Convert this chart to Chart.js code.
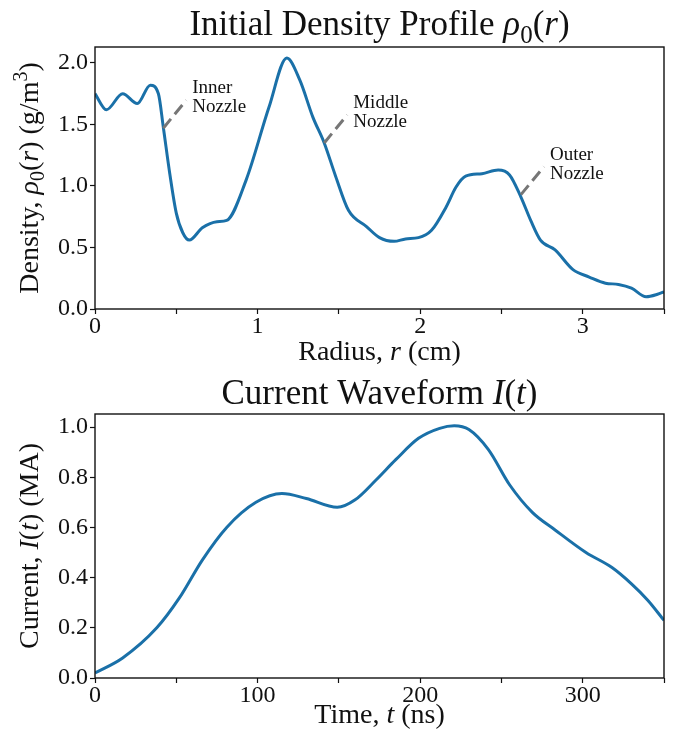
<!DOCTYPE html>
<html>
<head>
<meta charset="utf-8">
<script src="https://cdn.jsdelivr.net/npm/chart.js@4.4.1/dist/chart.umd.min.js"></script>
<style>
  html, body { margin: 0; padding: 0; background: #fff; }
  canvas { display: block; }
</style>
</head>
<body>
<canvas id="densitat" width="681" height="369"></canvas>
<canvas id="corrent" width="681" height="369"></canvas>
<script>
// Perfil de densitat inicial rho0(r)
const radi = [0, 0.07, 0.17, 0.26, 0.34, 0.39, 0.42, 0.46, 0.50, 0.54, 0.58, 0.66, 0.75, 0.81, 0.93,
  1.07, 1.18, 1.26, 1.34, 1.41, 1.48, 1.56, 1.67, 1.75, 1.84, 1.91, 1.99, 2.07, 2.16, 2.22, 2.28,
  2.38, 2.48, 2.55, 2.62, 2.68, 2.74, 2.83, 2.94, 3.04, 3.14, 3.22, 3.30, 3.39, 3.46, 3.5];
const densitat = [1.75, 1.62, 1.75, 1.67, 1.82, 1.75, 1.48, 1.10, 0.78, 0.62, 0.56, 0.66, 0.71, 0.72, 1.05,
  1.64, 2.04, 1.86, 1.56, 1.35, 1.08, 0.80, 0.67, 0.58, 0.55, 0.57, 0.58, 0.64, 0.83, 0.99, 1.08,
  1.10, 1.13, 1.09, 0.91, 0.72, 0.56, 0.48, 0.32, 0.26, 0.21, 0.20, 0.17, 0.10, 0.12, 0.14];

// Forma d'ona del corrent I(t)
const temps = [0, 17, 38, 52, 66, 81, 99, 115, 130, 149, 160, 173, 185, 199, 212, 221, 230, 242,
  255, 269, 283, 302, 318, 330, 340, 350];
const corrent = [0.02, 0.08, 0.20, 0.32, 0.47, 0.60, 0.70, 0.735, 0.715, 0.68, 0.71, 0.79, 0.87,
  0.955, 0.995, 1.005, 0.99, 0.91, 0.77, 0.66, 0.59, 0.50, 0.44, 0.375, 0.31, 0.23];

// Toveres: on apunta cada fletxa (r, rho)
const toveres = ['Inner', 'Middle', 'Outer'];
const toveraR = [0.42, 1.41, 2.62];
const toveraRho = [1.47, 1.35, 0.93];

const ticksDensitat = [0, 0.5, 1.0, 1.5, 2.0];
const ticksCorrent = [0, 0.2, 0.4, 0.6, 0.8, 1.0];

const SERIF = '"Liberation Serif", "DejaVu Serif", serif';
const BLAU = '#1a70a8';
const TINTA = '#111';

// Text amb cursiva, subíndex i superíndex: [text, estil] amb estil n/i/s/p
function fontPer(e, mida) {
  if (e === 'i') return `italic ${mida}px ${SERIF}`;
  if (e === 's' || e === 'p') return `${Math.round(mida * 0.7)}px ${SERIF}`;
  return `${mida}px ${SERIF}`;
}
function mesuraRic(ctx, parts, mida) {
  let w = 0;
  parts.forEach(([t, e]) => { ctx.font = fontPer(e, mida); w += ctx.measureText(t).width; });
  return w;
}
function textRic(ctx, parts, x, y, mida) {
  const w = mesuraRic(ctx, parts, mida);
  let cx = x - w / 2;
  ctx.textAlign = 'left';
  ctx.textBaseline = 'alphabetic';
  ctx.fillStyle = TINTA;
  parts.forEach(([t, e]) => {
    ctx.font = fontPer(e, mida);
    let dy = 0;
    if (e === 's') dy = mida * 0.22;
    if (e === 'p') dy = -mida * 0.38;
    ctx.fillText(t, cx, y + dy);
    cx += ctx.measureText(t).width;
  });
}

function pluginEtiquetes(titol, etX, etY, baseX) {
  return {
    id: 'etiquetes',
    afterDraw(chart) {
      const { ctx, chartArea: a } = chart;
      ctx.save();
      // marc complet
      ctx.strokeStyle = TINTA;
      ctx.lineWidth = 1.4;
      ctx.strokeRect(a.left, a.top, a.right - a.left, a.bottom - a.top);
      const cx = (a.left + a.right) / 2;
      textRic(ctx, titol, cx, 35, 35);
      textRic(ctx, etX, cx, baseX, 28);
      ctx.translate(38, (a.top + a.bottom) / 2);
      ctx.rotate(-Math.PI / 2);
      textRic(ctx, etY, 0, 0, 28);
      ctx.restore();
    }
  };
}

const pluginToveres = {
  id: 'toveres',
  afterDatasetsDraw(chart) {
    const { ctx, scales: { x, y } } = chart;
    ctx.save();
    toveres.forEach((nom, i) => {
      const px = x.getPixelForValue(toveraR[i]);
      const py = y.getPixelForValue(toveraRho[i]);
      ctx.beginPath();
      ctx.strokeStyle = '#767676';
      ctx.lineWidth = 3;
      ctx.setLineDash([12, 6]);
      ctx.moveTo(px, py);
      ctx.lineTo(px + 23, py - 28);
      ctx.stroke();
      ctx.setLineDash([]);
      ctx.fillStyle = TINTA;
      ctx.font = `19px ${SERIF}`;
      ctx.textAlign = 'left';
      ctx.textBaseline = 'middle';
      ctx.fillText(nom, px + 29, py - 40);
      ctx.fillText('Nozzle', px + 29, py - 21);
    });
    ctx.restore();
  }
};

function eixos(xMax, xPas, esEtiqueta, yMax, yTicks, yDec) {
  const tickFont = { family: SERIF, size: 24 };
  const graella = { drawOnChartArea: false, drawTicks: true, tickLength: 5, color: TINTA, tickWidth: 1.2 };
  return {
    x: {
      type: 'linear', min: 0, max: xMax,
      ticks: {
        stepSize: xPas, includeBounds: false, autoSkip: false, maxRotation: 0,
        color: TINTA, font: tickFont, padding: -2,
        callback: v => esEtiqueta(v) ? String(v) : ''
      },
      grid: graella,
      border: { display: false },
      afterFit: s => { s.height = 60; }
    },
    y: {
      min: 0, max: yMax,
      afterBuildTicks: s => { s.ticks = yTicks.map(v => ({ value: v })); },
      ticks: { color: TINTA, font: tickFont, padding: 2, callback: v => v.toFixed(yDec) },
      grid: graella,
      border: { display: false },
      afterFit: s => { s.width = 95; }
    }
  };
}

function linia(xs, ys) {
  return {
    data: xs.map((v, i) => ({ x: v, y: ys[i] })),
    borderColor: BLAU,
    borderWidth: 3,
    pointRadius: 0,
    cubicInterpolationMode: 'monotone',
    fill: false
  };
}

const comuns = {
  animation: false,
  responsive: false,
  devicePixelRatio: 1,
  plugins: { legend: { display: false }, tooltip: { enabled: false } }
};

new Chart(document.getElementById('densitat'), {
  type: 'line',
  data: { datasets: [linia(radi, densitat)] },
  options: {
    ...comuns,
    layout: { padding: { top: 47, right: 17, left: 0, bottom: 0 } },
    scales: eixos(3.5, 0.5, v => Number.isInteger(v), 2.13, ticksDensitat, 1)
  },
  plugins: [
    pluginEtiquetes(
      [['Initial Density Profile ', 'n'], ['ρ', 'i'], ['0', 's'], ['(', 'n'], ['r', 'i'], [')', 'n']],
      [['Radius, ', 'n'], ['r', 'i'], [' (cm)', 'n']],
      [['Density, ', 'n'], ['ρ', 'i'], ['0', 's'], ['(', 'n'], ['r', 'i'], [') (g/m', 'n'], ['3', 'p'], [')', 'n']],
      360
    ),
    pluginToveres
  ]
});

new Chart(document.getElementById('corrent'), {
  type: 'line',
  data: { datasets: [linia(temps, corrent)] },
  options: {
    ...comuns,
    layout: { padding: { top: 45, right: 17, left: 0, bottom: 0 } },
    scales: eixos(350, 50, v => v % 100 === 0, 1.052, ticksCorrent, 1)
  },
  plugins: [
    pluginEtiquetes(
      [['Current Waveform ', 'n'], ['I', 'i'], ['(', 'n'], ['t', 'i'], [')', 'n']],
      [['Time, ', 'n'], ['t', 'i'], [' (ns)', 'n']],
      [['Current, ', 'n'], ['I', 'i'], ['(', 'n'], ['t', 'i'], [') (MA)', 'n']],
      354
    )
  ]
});
</script>
</body>
</html>
